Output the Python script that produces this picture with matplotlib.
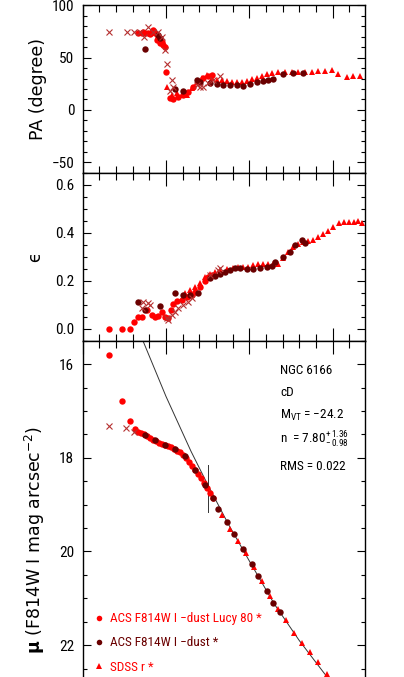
import matplotlib
matplotlib.use('Agg')
import matplotlib.pyplot as plt
from matplotlib import font_manager
from matplotlib.ticker import MultipleLocator, FormatStrFormatter
from matplotlib.lines import Line2D

# radius axis is r^(1/4); ticks at 1, 2, 3
# --- position angle panel ---
lucy_pa_r = [0.667, 0.708, 0.727, 0.748, 0.788, 0.808, 0.828, 0.848, 0.868, 0.896, 0.908,
             0.928, 0.948, 0.968, 0.988, 1.004, 1.048, 1.088, 1.148, 1.208, 1.268, 1.328,
             1.388, 1.448, 1.508, 1.549]
lucy_pa = [73.5, 73.2, 74.5, 73.2, 73.8, 72.6, 74.8, 76.4, 73.2, 66.8, 69.7,
           63.7, 64.9, 62.0, 60.1, 36.5, 11.1, 10.2, 12.6, 14.3, 17.4, 21.6,
           27.0, 30.2, 32.4, 33.4]

dust_pa_r = [0.748, 0.908, 0.928, 1.108, 1.208, 1.369, 1.408, 1.528, 1.609, 1.688, 1.768,
             1.849, 1.928, 2.008, 2.089, 2.168, 2.228, 2.288, 2.408, 2.528, 2.648]
dust_pa = [57.9, 71.6, 68.3, 19.7, 18.1, 28.6, 27.0, 26.0, 24.8, 23.8, 23.8,
           23.5, 22.9, 24.8, 27.0, 27.9, 28.6, 29.5, 34.3, 35.0, 35.6]

sdss_pa_r = [1.008, 1.068, 1.128, 1.188, 1.248, 1.309, 1.369, 1.429, 1.489, 1.549, 1.609,
             1.669, 1.729, 1.789, 1.849, 1.909, 1.969, 2.029, 2.089, 2.149, 2.209, 2.269,
             2.348, 2.428, 2.509, 2.588, 2.669, 2.749, 2.828, 2.909, 2.989, 3.068, 3.169,
             3.248, 3.329]
sdss_pa = [21.6, 14.3, 15.9, 14.3, 14.3, 20.7, 27.0, 30.2, 33.4, 30.2, 28.6,
           28.6, 27.6, 27.0, 27.0, 27.0, 27.6, 29.3, 30.8, 32.4, 34.3, 35.6,
           36.5, 36.5, 36.5, 36.5, 36.5, 36.5, 36.9, 37.5, 38.2, 34.3, 31.8,
           32.4, 32.4]

cross_pa_r = [0.312, 0.528, 0.619, 0.688, 0.739, 0.788, 0.848, 0.908, 0.948, 0.988, 1.016,
              1.048, 1.068, 1.088, 1.369, 1.408, 1.448, 1.508, 1.568, 1.648]
cross_pa = [74.2, 74.2, 74.2, 74.2, 70.0, 79.0, 74.8, 74.8, 70.0, 57.3, 43.6,
            18.0, 28.6, 22.2, 23.8, 21.6, 21.6, 25.4, 28.6, 32.4]

# --- ellipticity panel ---
lucy_eps_r = [0.312, 0.472, 0.564, 0.619, 0.667, 0.708, 0.768, 0.828, 0.868, 0.908, 0.948,
              0.988, 1.028, 1.056, 1.088, 1.128, 1.188, 1.248, 1.309, 1.348, 1.408, 1.468,
              1.508, 1.549]
lucy_eps = [0.0, 0.0, 0.0, 0.029, 0.05, 0.05, 0.078, 0.057, 0.05, 0.054, 0.071,
            0.05, 0.043, 0.078, 0.103, 0.116, 0.12, 0.13, 0.14, 0.154, 0.175, 0.2,
            0.217, 0.224]

dust_eps_r = [0.667, 0.748, 0.928, 1.108, 1.208, 1.288, 1.388, 1.528, 1.588, 1.648, 1.708,
              1.768, 1.828, 1.888, 1.969, 2.048, 2.128, 2.209, 2.269, 2.309, 2.408, 2.489,
              2.549, 2.629, 2.669]
dust_eps = [0.11, 0.078, 0.095, 0.147, 0.14, 0.14, 0.147, 0.21, 0.22, 0.228, 0.237,
            0.245, 0.252, 0.252, 0.248, 0.248, 0.252, 0.256, 0.261, 0.279, 0.297, 0.321,
            0.349, 0.37, 0.358]

sdss_eps_r = [1.228, 1.288, 1.348, 1.408, 1.468, 1.528, 1.588, 1.648, 1.729, 1.808, 1.868,
              1.928, 1.988, 2.048, 2.108, 2.168, 2.228, 2.288, 2.348, 2.408, 2.468, 2.528,
              2.588, 2.648, 2.708, 2.768, 2.828, 2.888, 2.948, 3.008, 3.080, 3.140, 3.200,
              3.260, 3.308, 3.349]
sdss_eps = [0.149, 0.161, 0.174, 0.19, 0.217, 0.228, 0.237, 0.245, 0.249, 0.254, 0.258,
            0.258, 0.258, 0.265, 0.27, 0.27, 0.27, 0.268, 0.27, 0.293, 0.321, 0.339,
            0.353, 0.362, 0.367, 0.37, 0.383, 0.394, 0.408, 0.425, 0.439, 0.443, 0.443,
            0.443, 0.45, 0.439]

cross_eps_r = [0.708, 0.727, 0.788, 0.808, 1.008, 1.028, 1.068, 1.108, 1.148, 1.208, 1.268,
               1.309, 1.528, 1.628, 1.648]
cross_eps = [0.085, 0.112, 0.106, 0.098, 0.043, 0.036, 0.057, 0.071, 0.085, 0.099, 0.112,
             0.127, 0.224, 0.245, 0.252]

# --- surface brightness panel ---
lucy_mu_r = [0.312, 0.472, 0.564, 0.624, 0.664, 0.700, 0.736, 0.772, 0.808, 0.844, 0.880,
             0.916, 0.952, 0.988, 1.024, 1.060, 1.096, 1.132, 1.168, 1.204, 1.240, 1.276,
             1.312, 1.348, 1.384, 1.420, 1.456, 1.492, 1.528, 1.564]
lucy_mu = [15.80, 16.78, 17.22, 17.39, 17.44, 17.47, 17.50, 17.54, 17.57, 17.61, 17.64,
           17.68, 17.70, 17.72, 17.75, 17.78, 17.81, 17.85, 17.88, 17.93, 18.00, 18.09,
           18.18, 18.26, 18.35, 18.43, 18.54, 18.65, 18.75, 18.86]

dust_mu_r = [0.748, 0.868, 0.988, 1.108, 1.228, 1.348, 1.468, 1.564, 1.628, 1.729, 1.816,
             1.928, 2.029, 2.108, 2.209, 2.288, 2.369]
dust_mu = [17.52, 17.63, 17.72, 17.82, 17.96, 18.26, 18.58, 18.86, 19.09, 19.37, 19.63,
           19.95, 20.27, 20.52, 20.84, 21.09, 21.30]

sdss_mu_r = [1.672, 1.768, 1.864, 1.960, 2.056, 2.152, 2.248, 2.344, 2.441, 2.537, 2.633,
             2.729, 2.825, 2.929, 3.017]
sdss_mu = [19.22, 19.51, 19.77, 20.03, 20.33, 20.63, 20.94, 21.23, 21.47, 21.73, 21.95,
           22.15, 22.36, 22.62, 22.83]

cross_mu_r = [0.312, 0.520, 0.616]
cross_mu = [17.32, 17.37, 17.46]

# Sersic fit curve and the inner fit limit
fit_r = [0.688, 1.0, 1.3, 1.5, 1.75, 2.0, 2.3, 2.6, 2.9, 3.1]
fit_mu = [15.35, 16.69, 17.86, 18.57, 19.42, 20.20, 21.12, 21.90, 22.60, 23.05]
fit_min_r = 1.50
fit_min_mu = [18.16, 19.16]

info = ['NGC 6166', 'cD', r'M$_{\mathregular{VT}}$ = $\mathregular{-}$24.2',
        r'n  = 7.80$^{\mathregular{+\,1.36}}_{\mathregular{-\,0.98}}$', 'RMS = 0.022']
labels = ['ACS F814W I \u2212dust Lucy 80 *', 'ACS F814W I \u2212dust *', 'SDSS r *']

RED = '#ff0000'
DARK = '#6a0000'
XCOL = '#b53030'

# pick a narrow sans face if one is installed
avail = {f.name for f in font_manager.fontManager.ttflist}
narrow = None
for cand in ['Liberation Sans Narrow', 'DejaVu Sans Condensed', 'Roboto Condensed',
             'Open Sans Condensed', 'Noto Sans Condensed']:
    if cand in avail:
        narrow = cand
        break
if narrow is None:
    narrow = 'Liberation Sans'
    fs_txt, fs_tick = 8.3, 9.5
else:
    fs_txt, fs_tick = 9.5, 11

plt.rcParams['font.family'] = [narrow, 'DejaVu Sans']
plt.rcParams['mathtext.fontset'] = 'custom'
plt.rcParams['mathtext.rm'] = narrow

fig = plt.figure(figsize=(4.04, 6.77), dpi=100)
L, W = 0.2047, 0.6995
ax1 = fig.add_axes([L, 0.7449, W, 0.2473])
ax2 = fig.add_axes([L, 0.4968, W, 0.2482])
ax3 = fig.add_axes([L, -0.0914, W, 0.5882])

ms_o, ms_t, ms_x = 4.6, 4.6, 4.2


def draw(ax, lr, lv, tr, tv, dr, dv, xr, xv):
    ax.plot(lr, lv, 'o', color=RED, ms=ms_o, mew=0, ls='none')
    ax.plot(tr, tv, '^', color=RED, ms=ms_t, mew=0, ls='none')
    ax.plot(dr, dv, 'o', color=DARK, ms=ms_o, mew=0, ls='none')
    ax.plot(xr, xv, 'x', color=XCOL, ms=ms_x, mew=0.8, ls='none')


draw(ax1, lucy_pa_r, lucy_pa, sdss_pa_r, sdss_pa, dust_pa_r, dust_pa, cross_pa_r, cross_pa)
draw(ax2, lucy_eps_r, lucy_eps, sdss_eps_r, sdss_eps, dust_eps_r, dust_eps, cross_eps_r, cross_eps)
ax3.plot(fit_r, fit_mu, color='#333333', lw=0.7, zorder=1)
ax3.plot([fit_min_r, fit_min_r], fit_min_mu, color='#333333', lw=0.7, zorder=1)
draw(ax3, lucy_mu_r, lucy_mu, sdss_mu_r, sdss_mu, dust_mu_r, dust_mu, cross_mu_r, cross_mu)

ax1.set_ylim(-60, 100)
ax2.set_ylim(-0.05, 0.65)
ax3.set_ylim(24, 15.5)
ax1.yaxis.set_major_locator(MultipleLocator(50))
ax1.yaxis.set_minor_locator(MultipleLocator(10))
ax2.yaxis.set_major_locator(MultipleLocator(0.2))
ax2.yaxis.set_minor_locator(MultipleLocator(0.05))
ax2.yaxis.set_major_formatter(FormatStrFormatter('%.1f'))
ax3.yaxis.set_major_locator(MultipleLocator(2))
ax3.yaxis.set_minor_locator(MultipleLocator(0.5))

for ax in (ax1, ax2, ax3):
    ax.set_xlim(0, 3.393)
    ax.xaxis.set_major_locator(MultipleLocator(1))
    ax.xaxis.set_minor_locator(MultipleLocator(0.2))
    ax.tick_params(axis='both', which='both', direction='in', top=True, right=True,
                   labelbottom=False, width=0.8, labelsize=fs_tick, pad=6)
    ax.tick_params(axis='x', which='major', length=9.4)
    ax.tick_params(axis='x', which='minor', length=4.8)
    ax.tick_params(axis='y', which='major', length=5.5)
    ax.tick_params(axis='y', which='minor', length=3.1)
    for s in ax.spines.values():
        s.set_linewidth(1.0)

ax1.set_ylabel('PA (degree)', family='DejaVu Sans', fontsize=12.5)
ax2.set_ylabel('\u03f5', family='DejaVu Sans', fontsize=12)
ax3.set_ylabel(r'$\mathbf{\mu}$ (F814W I mag arcsec$^{\mathregular{-2}}$)',
               family='DejaVu Sans', fontsize=12.5)
ax1.yaxis.set_label_coords(-0.125, 0.5)
ax2.yaxis.set_label_coords(-0.137, 0.5)
ax3.yaxis.set_label_coords(-0.125, 0.5)

info_y = [0.926, 0.869, 0.813, 0.751, 0.683]
for txt, yy in zip(info, info_y):
    ax3.text(0.698, yy, txt, transform=ax3.transAxes, fontsize=fs_txt, va='center', ha='left')

handles = [Line2D([], [], marker='o', color=RED, ls='none', ms=4, mew=0),
           Line2D([], [], marker='o', color=DARK, ls='none', ms=4, mew=0),
           Line2D([], [], marker='^', color=RED, ls='none', ms=4, mew=0)]
leg = ax3.legend(handles, labels, loc='upper left', bbox_to_anchor=(0.045, 0.318),
                 frameon=False, fontsize=fs_txt, handlelength=0.6, handletextpad=0.5,
                 labelspacing=0.85, borderpad=0, borderaxespad=0,
                 labelcolor='markerfacecolor')

fig.savefig('out.png', dpi=100, facecolor='white')
